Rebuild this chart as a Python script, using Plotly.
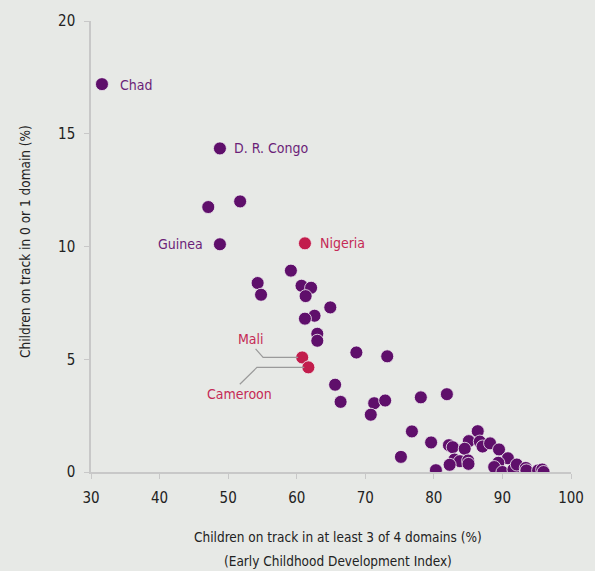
import plotly.graph_objects as go

# ECDI (x) vs children on track in 0 or 1 domain (y)
ecdi = [31.6, 48.8, 47.1, 51.75, 48.8,
        59.15, 54.3, 54.8, 60.7, 62.1, 61.3, 64.9, 62.6, 61.2, 63.0, 63.0,
        68.7, 73.2, 65.6, 66.4, 71.3, 72.9, 70.8, 78.1, 81.9, 76.8,
        79.6, 75.2, 82.2, 82.75, 86.4, 85.1, 84.5, 86.7, 87.1, 88.2, 89.5,
        90.8, 83.0, 83.8, 85.0, 85.05, 82.3, 80.3, 89.4, 88.8, 90.0, 91.6,
        92.1, 93.4, 93.5, 95.2, 95.8, 96.0]
low_track = [17.2, 14.35, 11.75, 12.0, 10.1,
             8.93, 8.38, 7.86, 8.26, 8.17, 7.80, 7.30, 6.93, 6.80, 6.13, 5.82,
             5.30, 5.13, 3.87, 3.11, 3.05, 3.17, 2.54, 3.31, 3.45, 1.80,
             1.31, 0.67, 1.19, 1.10, 1.81, 1.37, 1.03, 1.35, 1.13, 1.27, 1.0,
             0.61, 0.55, 0.48, 0.51, 0.36, 0.32, 0.08, 0.41, 0.22, 0.0, 0.11,
             0.33, 0.18, 0.07, 0.07, 0.11, 0.0]

hl_names = ["Nigeria", "Mali", "Cameroon"]
hl_ecdi = [61.2, 60.8, 61.7]
hl_low = [10.14, 5.08, 4.64]

purple_labels = {"Chad": (31.6, 17.2), "D. R. Congo": (48.8, 14.35), "Guinea": (48.8, 10.1)}

PURPLE = "#5f0f6b"
RED = "#c21d4c"
FONT = "DejaVu Sans Condensed, Liberation Sans Narrow, sans-serif"

fig = go.Figure()

fig.add_trace(go.Scatter(
    x=ecdi, y=low_track, mode="markers",
    marker=dict(size=13, color=PURPLE, line=dict(color="#f2f2f2", width=0.8)),
    hoverinfo="x+y", showlegend=False,
))

# leader lines for Mali and Cameroon
mx, my = hl_ecdi[1], hl_low[1]
cx, cy = hl_ecdi[2], hl_low[2]
fig.add_shape(type="path", xref="x", yref="y",
              path=f"M {mx-0.6},{my} L {55.1},{my} L {54.0},{my+0.38}",
              line=dict(color="#9a9a9a", width=1.2))
fig.add_shape(type="path", xref="x", yref="y",
              path=f"M {cx-0.6},{cy} L {54.2},{cy} L {51.7},{cy-0.75}",
              line=dict(color="#9a9a9a", width=1.2))

fig.add_trace(go.Scatter(
    x=hl_ecdi, y=hl_low, mode="markers", text=hl_names,
    marker=dict(size=13, color=RED, line=dict(color="#f2f2f2", width=0.8)),
    hoverinfo="text", showlegend=False,
))

for name, (x, y) in purple_labels.items():
    left = name == "Guinea"
    fig.add_annotation(x=x, y=y, text=name, showarrow=False,
                       xanchor="right" if left else "left",
                       xshift=-15 if left else (16 if name == "Chad" else 12),
                       yshift=-1 if name == "Chad" else 0,
                       font=dict(size=14, color="#6b1f78", family=FONT))

fig.add_annotation(x=hl_ecdi[0], y=hl_low[0], text="Nigeria", showarrow=False,
                   xanchor="left", xshift=13,
                   font=dict(size=14, color="#c52a55", family=FONT))
fig.add_annotation(x=53.3, y=5.88, text="Mali", showarrow=False,
                   font=dict(size=14, color="#c52a55", family=FONT))
fig.add_annotation(x=51.6, y=3.47, text="Cameroon", showarrow=False,
                   font=dict(size=14, color="#c52a55", family=FONT))

# axis titles
fig.add_annotation(xref="paper", yref="paper", x=0.515, y=0, yshift=-65,
                   text="Children on track in at least 3 of 4 domains (%)",
                   showarrow=False, yanchor="middle",
                   font=dict(size=13.5, color="#222222", family=FONT))
fig.add_annotation(xref="paper", yref="paper", x=0.515, y=0, yshift=-89,
                   text="(Early Childhood Development Index)",
                   showarrow=False, yanchor="middle",
                   font=dict(size=13.5, color="#222222", family=FONT))
fig.add_annotation(xref="paper", yref="paper", x=0, y=0.51, xshift=-66,
                   text="Children on track in 0 or 1 domain (%)",
                   showarrow=False, textangle=-90, xanchor="center",
                   font=dict(size=13.5, color="#222222", family=FONT))

fig.update_layout(
    width=595, height=571,
    margin=dict(l=91, r=24, t=21, b=99),
    paper_bgcolor="#e7e9e6",
    plot_bgcolor="#e7e9e6",
    font=dict(family=FONT, size=15, color="#222222"),
    xaxis=dict(range=[30, 100], tickvals=[30, 40, 50, 60, 70, 80, 90, 100],
               showgrid=False, zeroline=False, showline=True,
               linecolor="#c8c8c8", linewidth=1.5,
               ticks="outside", ticklen=5, tickcolor="#c8c8c8",
               ticklabelstandoff=6,
               tickfont=dict(size=15, color="#222222")),
    yaxis=dict(range=[0, 20], tickvals=[0, 5, 10, 15, 20],
               showgrid=False, zeroline=False, showline=True,
               linecolor="#c8c8c8", linewidth=1.5,
               ticks="outside", ticklen=5, tickcolor="#c8c8c8",
               ticklabelstandoff=6,
               tickfont=dict(size=15, color="#222222")),
)

fig.write_html("out.html", config={"displayModeBar": False},
               post_script="document.body.style.margin='0px';")
